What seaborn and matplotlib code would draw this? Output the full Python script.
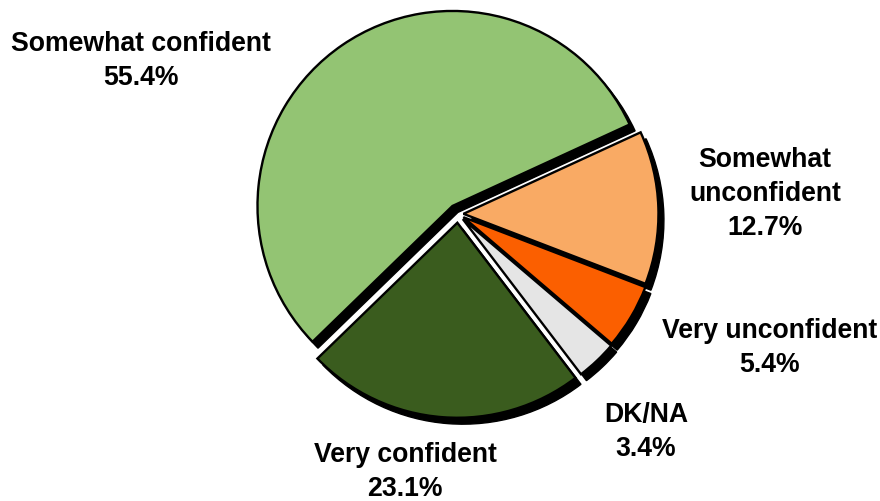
import matplotlib
matplotlib.use("Agg")
import matplotlib.pyplot as plt
import seaborn as sns

sns.set_theme(style="white")
plt.rcParams['font.family'] = ['Liberation Sans', 'DejaVu Sans']

# Data (clockwise from upper right)
categories = ["Somewhat\nunconfident", "Very unconfident", "DK/NA", "Very confident", "Somewhat confident"]
values = [12.7, 5.4, 3.4, 23.1, 55.4]
colors = ["#F9AA64", "#FB5F00", "#E5E5E5", "#3A5C1E", "#93C473"]
explode = [0.028, 0.032, 0.036, 0.045, 0.05]

# label layout (pixel centres in the 880x502 figure)
label_pos = [(765, 194), (770, 348), (646, 432), (405, 472), (141, 61)]

W, H, DPI = 880, 502, 100
fig = plt.figure(figsize=(W / DPI, H / DPI), dpi=DPI)
R = 195.0
L = 1.25
side = 2 * L * R
cx, cy = 458, 215
ax = fig.add_axes([(cx - side / 2) / W, (H - cy - side / 2) / H, side / W, side / H])

sx, sy = 0.028, -0.033
# shadow
ax.pie(values, explode=explode, colors=["black"] * len(values), startangle=24.7,
       counterclock=False, center=(sx, sy), radius=1.0,
       wedgeprops=dict(edgecolor="black", linewidth=1.0))
# main pie
ax.pie(values, explode=explode, colors=colors, startangle=24.7,
       counterclock=False, center=(0, 0), radius=1.0,
       wedgeprops=dict(edgecolor="black", linewidth=1.7))

ax.set_xlim(-L, L)
ax.set_ylim(-L, L)
ax.set_aspect("equal")
ax.axis("off")

for cat, val, (px, py) in zip(categories, values, label_pos):
    fig.text(px / W, 1 - py / H, f"{cat}\n{val:.1f}%", ha="center", va="center",
             fontsize=19.2, fontweight="bold", color="black", linespacing=1.42)

fig.savefig("out.png", dpi=DPI, facecolor="white")
